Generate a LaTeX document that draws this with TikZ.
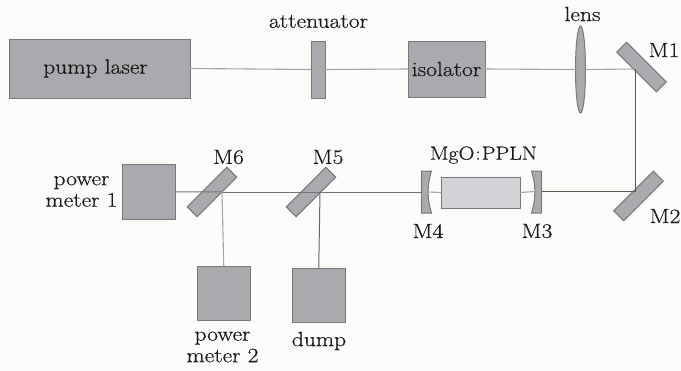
\documentclass[tikz,border=0pt]{standalone}
\usepackage{fontspec}
\setmainfont{Latin Modern Roman}[FakeStretch=1.15,FakeBold=0.5]
\usetikzlibrary{shapes.geometric}
\definecolor{bgc}{HTML}{FCFCFB}
\definecolor{boxfill}{HTML}{A9AAAD}
\definecolor{boxline}{HTML}{77787A}
\definecolor{crystal}{HTML}{D2D3D6}
\definecolor{beamlight}{HTML}{A6A6A6}
\definecolor{beamdark}{HTML}{5A5550}
\tikzset{
  x=1pt,y=-1pt,
  optic/.style={draw=boxline,fill=boxfill,line width=1pt,inner sep=0pt,outer sep=0pt},
  boxat/.style n args={2}{optic,minimum width=#1,minimum height=#2},
  mirror/.style={optic,minimum width=56pt,minimum height=14pt},
  beam/.style={draw=beamlight,line width=1.1pt},
  beamd/.style={draw=beamdark,line width=1pt},
  lab/.style={font=\fontsize{20.5}{21.5}\selectfont,inner sep=0pt,align=center,text=black!90},
}
\begin{document}
\begin{tikzpicture}
\useasboundingbox (0,0) rectangle (681,370);
\fill[bgc] (0,0) rectangle (681,370);
% boxes
\node[boxat={181pt}{59pt}] (pump) at (99.5,68.5) {};
\node[boxat={14pt}{57pt}] (atten) at (318,69.5) {};
\node[boxat={77pt}{56pt}] (iso) at (446.5,69) {};
\node[optic,ellipse,minimum width=10pt,minimum height=87pt] (lens) at (580.5,69.5) {};
\node[mirror,rotate=-45] (m1) at (641.5,67) {};
\node[mirror,rotate=45] (m2) at (638.5,196) {};
\node[mirror,rotate=45] (m5) at (311,192) {};
\node[mirror,rotate=45] (m6) at (212,192) {};
\node[boxat={53pt}{54.5pt}] (pm1) at (148.5,191.75) {};
\node[boxat={52.5pt}{54pt}] (pm2) at (223.75,293) {};
\node[boxat={52.5pt}{54pt}] (dump) at (318.75,295) {};
\node[optic,draw=boxline,fill=crystal,minimum width=79pt,minimum height=31pt] (xtal) at (480.5,192.5) {};
% curved mirrors
\draw[optic] (421.5,171) -- (431.5,171) .. controls (427,185) and (427,199) .. (431.5,213) -- (421.5,213) -- cycle;
\draw[optic] (541.5,171) -- (531.5,171) .. controls (536,185) and (536,199) .. (531.5,213) -- (541.5,213) -- cycle;
\coordinate (m4L) at (421.5,192);
\coordinate (m4R) at (428.2,192);
\coordinate (m3L) at (534.8,191.5);
\coordinate (m3R) at (541.5,191.5);
\coordinate (b1) at (635,69);
\coordinate (b2) at (635,191.5);
\coordinate (b5) at (320,192);
\coordinate (b6) at (222,192);
% beams
\draw[beam] (pump.east) -- (atten.west);
\draw[beam] (atten.east) -- (iso.west);
\draw[beam] (iso.east) -- (lens.west);
\draw[beam] (lens.east) -- (b1);
\draw[beamd] (b1) -- (b2);
\draw[beamd] (b2) -- (m3R);
\draw[beam] (m3L) -- (xtal.east);
\draw[beam] (xtal.west) -- (m4R);
\draw[beamd,draw=black!55] (m4L) -- (b5);
\draw[beamd,draw=black!55] (b5) -- (b6);
\draw[beamd,draw=black!55] (b6) -- (pm1.east);
\draw[beam] (b6) -- (pm2.north);
\draw[beamd,draw=black!60] (b5) -- (dump.north);
% labels
\node[lab] (t1) at (95.5,68.5) {pump laser};
\node[lab] (t2) at (318.5,21.5) {attenuator};
\node[lab] (t3) at (446.5,69) {isolator};
\node[lab] (t4) at (582.5,14) {lens};
\node[lab] (t5) at (664,50) {M1};
\node[lab] (t6) at (665,216) {M2};
\node[lab] (t7) at (537,231) {M3};
\node[lab] (t8) at (428,231) {M4};
\node[lab,font=\fontsize{19}{21.5}\selectfont] (t9) at (483.5,155) {MgO\kern1pt:\kern1pt PPLN};
\node[lab] (t10) at (328,157) {M5};
\node[lab] (t11) at (228.5,157) {M6};
\node[lab] (t12) at (81.5,191.5) {power\\meter 1};
\node[lab] (t13) at (222.5,347) {power\\meter 2};
\node[lab] (t14) at (319,341) {dump};
\end{tikzpicture}
\end{document}
